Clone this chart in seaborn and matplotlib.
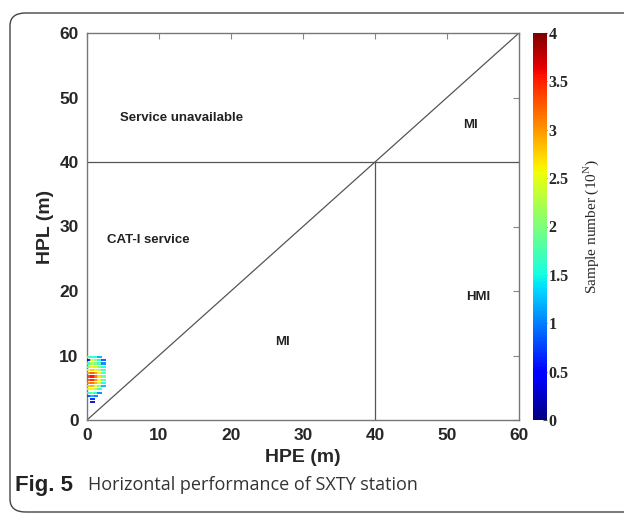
import numpy as np
import pandas as pd
import matplotlib
matplotlib.use("Agg")
import matplotlib.pyplot as plt
import seaborn as sns
from matplotlib.patches import FancyBboxPatch
from matplotlib.cm import ScalarMappable
from matplotlib.colors import Normalize

# bin centres of the 2D histogram (m)
hpe_bins = [0.25, 0.75, 1.25, 1.75, 2.25, 2.75]
hpl_bins = [9.75, 9.25, 8.75, 8.25, 7.75, 7.25, 6.75, 6.25, 5.75, 5.25, 4.75, 4.25, 3.75, 3.25, 2.75]
# log10 of sample count per bin (rows follow hpl_bins, columns follow hpe_bins)
nan = np.nan
log_counts = [
    [1.8, 1.6, 1.5, 1.2, nan, nan],
    [0.4, 2.4, 2.0, 1.5, 0.8, nan],
    [1.6, 2.2, 2.0, 1.7, 1.0, nan],
    [2.0, 2.6, 2.4, 2.0, 1.5, nan],
    [2.5, 2.8, 2.6, 2.2, 1.6, nan],
    [3.0, 3.3, 3.0, 2.6, 1.8, nan],
    [3.4, 3.6, 3.2, 2.7, 1.9, nan],
    [3.3, 3.5, 3.1, 2.6, 1.8, nan],
    [3.1, 3.2, 2.9, 2.3, 1.5, nan],
    [2.8, 2.9, 2.5, 2.0, 1.2, nan],
    [2.4, 2.6, 2.2, 1.6, nan, nan],
    [1.6, 1.8, 1.5, 1.0, nan, nan],
    [0.8, 1.2, 1.0, nan, nan, nan],
    [nan, 0.6, nan, nan, nan, nan],
    [nan, 0.3, nan, nan, nan, nan],
]
ticks = [0, 10, 20, 30, 40, 50, 60]
cbar_ticks = [0, 0.5, 1, 1.5, 2, 2.5, 3, 3.5, 4]
cbar_labels = ["0", "0.5", "1", "1.5", "2", "2.5", "3", "3.5", "4"]

rows = []
for i, hpl in enumerate(hpl_bins):
    for j, hpe in enumerate(hpe_bins):
        v = log_counts[i][j]
        if not np.isnan(v):
            rows.append((hpe, hpl, v))
df = pd.DataFrame(rows, columns=["HPE", "HPL", "N"])

sns.set_style("white")
plt.rcParams['font.family'] = ['Liberation Sans', 'DejaVu Sans']

fig = plt.figure(figsize=(6.24, 5.15), dpi=100)
ax = fig.add_axes([87/624, 95/515, 432/624, 387/515])
cax = fig.add_axes([533/624, 95/515, 14/624, 387/515])

jet = matplotlib.colormaps["jet"]
norm = Normalize(0, 4)
# wide, flat stripes so the histogram rows stay apart like in the original
stripe = [(-1, -0.45), (1, -0.45), (1, 0.45), (-1, 0.45), (-1, -0.45)]
sns.scatterplot(data=df, x="HPE", y="HPL", hue="N", hue_norm=norm, palette=jet,
                marker=stripe, s=12, linewidth=0, alpha=0.9, legend=False, ax=ax, zorder=3)

lc = "#555555"
ax.plot([0, 60], [0, 60], color=lc, lw=0.9)
ax.plot([0, 60], [40, 40], color=lc, lw=0.9)
ax.plot([40, 40], [0, 40], color=lc, lw=0.9)

ax.set_xlim(0, 60)
ax.set_ylim(0, 60)
ax.set_xticks(ticks)
ax.set_yticks(ticks)
ax.tick_params(direction="in", top=True, right=True, length=4, color="#888888",
               labelsize=12.5, pad=6)
for lab in ax.get_xticklabels() + ax.get_yticklabels():
    lab.set_fontweight("bold")
for s in ax.spines.values():
    s.set_color("#777777")
    s.set_linewidth(1.0)
ax.set_xlabel("HPE (m)", fontsize=14, fontweight="bold", labelpad=4)
ax.set_ylabel("HPL (m)", fontsize=14, fontweight="bold", labelpad=4)

tk = dict(fontsize=9.5, fontweight="bold", color="#222222")
ax.text(4.6, 46.8, "Service unavailable", ha="left", va="center", **tk)
ax.text(53.2, 45.7, "MI", ha="center", va="center", **tk)
ax.text(2.8, 27.9, "CAT-I service", ha="left", va="center", **tk)
ax.text(54.3, 19.0, "HMI", ha="center", va="center", **tk)
ax.text(27.1, 12.1, "MI", ha="center", va="center", **tk)

sm = ScalarMappable(norm=norm, cmap=jet)
cb = fig.colorbar(sm, cax=cax, ticks=cbar_ticks)
cb.outline.set_visible(False)
cax.tick_params(direction="in", length=3, color="#555555", pad=1)
cax.set_yticklabels(cbar_labels, family="Liberation Serif", fontsize=11.5, fontweight="bold")
cb.set_label("Sample number (10$^{\\mathregular{N}}$)", family="Liberation Serif", fontsize=11, labelpad=9)

fig.text(15/624, 1 - 485/515, "Fig. 5", fontsize=16, fontweight="bold", va="center", color="#222222")
fig.text(88/624, 1 - 485/515, "Horizontal performance of SXTY station", fontsize=13,
         va="center", color="#333333", family="Open Sans")

frame = FancyBboxPatch((10/624, 3/515), 700/624, 499/515, boxstyle="round,pad=0,rounding_size=0.025",
                       transform=fig.transFigure, fill=False, edgecolor="#444444", lw=1.0)
fig.patches.append(frame)

fig.savefig("out.png", dpi=100)
